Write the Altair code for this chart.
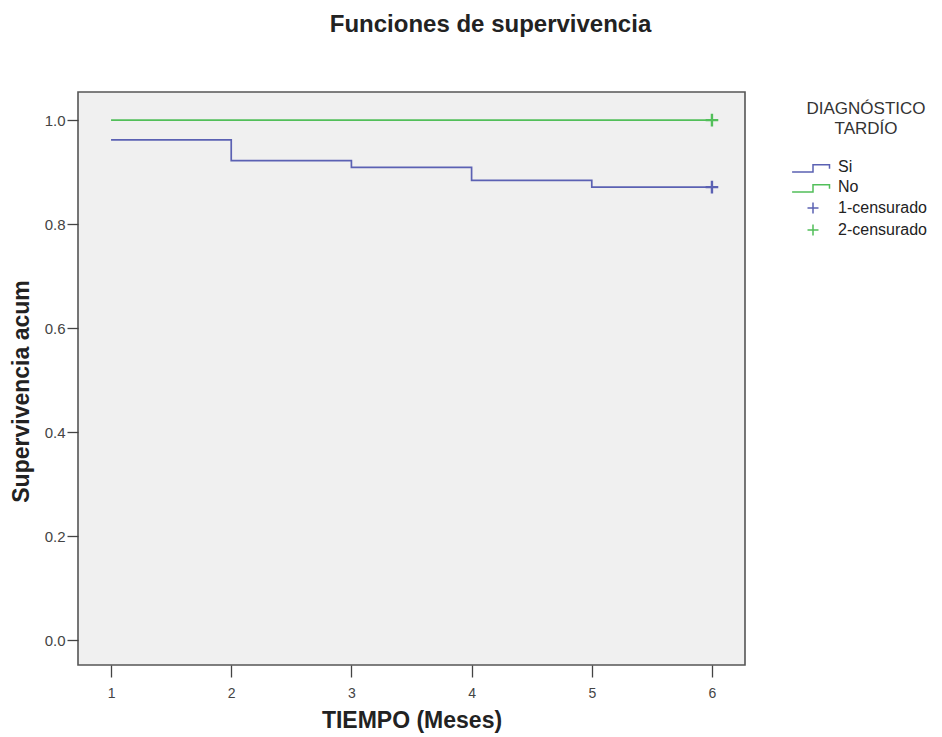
import altair as alt
import pandas as pd

# Data
tiempo_si = [1, 2, 3, 4, 5, 6]
surv_si = [0.962, 0.922, 0.909, 0.884, 0.871, 0.871]
tiempo_no = [1, 6]
surv_no = [1.0, 1.0]
cens_series = ["1-censurado", "2-censurado"]
cens_tiempo = [6, 6]
cens_surv = [0.871, 1.0]

legend_items = ["Si", "No", "1-censurado", "2-censurado"]
blue = "#5b61b3"
green = "#52bf5a"
legend_colors = [blue, green, blue, green]
step_path = "M-3.8,0.9 L0,0.9 L0,-0.4 L3.0,-0.4 L3.0,0.3"
cross_path = "M-1,0 L1,0 M0,-1 L0,1"
legend_shapes = [step_path, step_path, cross_path, cross_path]

lines_df = pd.DataFrame({
    "tiempo": tiempo_si + tiempo_no,
    "surv": surv_si + surv_no,
    "grupo": ["Si"] * len(tiempo_si) + ["No"] * len(tiempo_no),
    "col": [blue] * len(tiempo_si) + [green] * len(tiempo_no),
})
cens_df = pd.DataFrame({"tiempo": cens_tiempo, "surv": cens_surv, "serie": cens_series})

FONT = "Liberation Sans"
xscale = alt.Scale(domain=[0.725, 6.275], nice=False, zero=False)
yscale = alt.Scale(domain=[-0.048, 1.054], nice=False, zero=False)

xaxis = alt.Axis(values=[1, 2, 3, 4, 5, 6], format="d", title="TIEMPO (Meses)",
                 grid=False, domain=False, tickSize=12, tickColor="#444", tickWidth=1.3,
                 labelFont=FONT, labelFontSize=14, labelColor="#444", labelPadding=9,
                 titleFont=FONT, titleFontSize=23, titleFontWeight="bold", titleColor="#222",
                 titlePadding=9)
yaxis = alt.Axis(values=[0, 0.2, 0.4, 0.6, 0.8, 1.0], format=".1f", title="Supervivencia acum",
                 grid=False, domain=False, tickSize=11, tickColor="#444", tickWidth=1.3,
                 labelFont=FONT, labelFontSize=15, labelColor="#444", labelPadding=2,
                 titleFont=FONT, titleFontSize=23, titleFontWeight="bold", titleColor="#222",
                 titlePadding=11, titleY=299)

lines = alt.Chart(lines_df).mark_line(interpolate="step-after", strokeWidth=1.7).encode(
    x=alt.X("tiempo:Q", scale=xscale, axis=xaxis),
    y=alt.Y("surv:Q", scale=yscale, axis=yaxis),
    detail="grupo:N",
    color=alt.Color("col:N", scale=None),
)

legend_kw = dict(title=["DIAGNÓSTICO", "TARDÍO"], orient="none", legendX=727, legendY=9)
points = alt.Chart(cens_df).mark_point(filled=False, size=160, strokeWidth=2.4, opacity=1).encode(
    x=alt.X("tiempo:Q", scale=xscale),
    y=alt.Y("surv:Q", scale=yscale),
    color=alt.Color("serie:N", scale=alt.Scale(domain=legend_items, range=legend_colors),
                    legend=alt.Legend(**legend_kw,
                                      titleFont=FONT, titleFontSize=17, titleFontWeight="normal",
                                      titleColor="#333", titleAlign="center", titleAnchor="middle",
                                      titleLineHeight=20, titlePadding=21,
                                      labelFont=FONT, labelFontSize=16, labelColor="#222",
                                      labelOffset=17, rowPadding=4,
                                      symbolStrokeWidth=1.5, symbolSize=121)),
    shape=alt.Shape("serie:N", scale=alt.Scale(domain=legend_items, range=legend_shapes),
                    legend=alt.Legend(**legend_kw)),
)

chart = alt.layer(lines, points).properties(
    width=667, height=573,
    background="white",
    title=alt.TitleParams("Funciones de supervivencia", font=FONT, fontSize=24, fontWeight="bold",
                          color="#222", anchor="middle", dx=79, offset=55),
    autosize=alt.AutoSizeParams(type="none"),
    padding={"left": 70, "top": 84, "right": 189, "bottom": 72},
).configure_view(
    fill="#f0f0f0", stroke="#555", strokeWidth=1.6
)

chart.save("out.html", embed_options={"renderer": "svg", "actions": False})
